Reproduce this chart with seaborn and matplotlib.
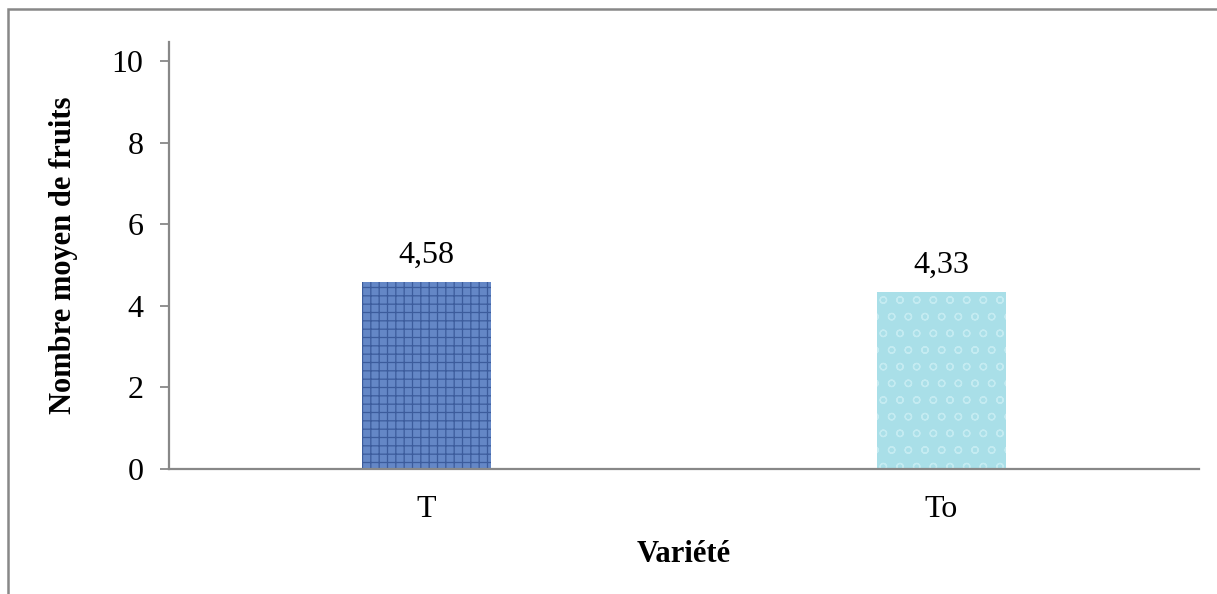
import matplotlib
matplotlib.use("Agg")
import matplotlib.pyplot as plt
from matplotlib.patches import Rectangle
import seaborn as sns
import pandas as pd

# Mean fruit count per variety
varietes = ["T", "To"]
nombre_moyen = [4.58, 4.33]
etiquettes = ["4,58", "4,33"]
y_ticks = [0, 2, 4, 6, 8, 10]

couleurs = {"T": "#6487c6", "To": "#a9dfe8"}
motifs = {"T": "++", "To": "o"}
couleurs_motif = {"T": "#3c5c9c", "To": "#c4ebf1"}

sns.set_theme(style="white")
plt.rcParams["font.family"] = ["Liberation Serif", "DejaVu Serif"]
plt.rcParams["text.color"] = "black"
plt.rcParams["axes.labelcolor"] = "black"
plt.rcParams["hatch.linewidth"] = 0.9

df = pd.DataFrame({"Variété": varietes, "Nombre": nombre_moyen})

fig = plt.figure(figsize=(12.17, 5.94), dpi=100)
ax = fig.add_axes([0.1389, 0.2104, 0.8463, 0.7189])

sns.barplot(data=df, x="Variété", y="Nombre", hue="Variété",
            palette=couleurs, width=0.25, ax=ax, legend=False,
            saturation=1)

for patch, v in zip(ax.patches, varietes):
    patch.set_hatch(motifs[v])
    patch.set_edgecolor(couleurs_motif[v])
    patch.set_linewidth(0)

for patch, lab in zip(ax.patches, etiquettes):
    ax.annotate(lab, (patch.get_x() + patch.get_width() / 2, patch.get_height()),
                xytext=(0, 9), textcoords="offset points",
                ha="center", va="bottom", fontsize=23, color="black")

ax.set_ylim(0, 10.466)
ax.set_yticks(y_ticks)
ax.set_yticklabels([str(t) for t in y_ticks])
ax.set_xlim(-0.5, 1.5)

grey = "#888888"
for side in ["top", "right"]:
    ax.spines[side].set_visible(False)
for side in ["left", "bottom"]:
    ax.spines[side].set_color(grey)
    ax.spines[side].set_linewidth(1.6)

ax.tick_params(axis="y", which="major", direction="out", length=6.5,
               width=1.3, color=grey, left=True, labelsize=23, pad=12,
               labelcolor="black")
ax.tick_params(axis="x", length=0, labelsize=23, pad=19, labelcolor="black")

ax.set_xlabel("Variété", fontsize=22, fontweight="bold", labelpad=11, color="black")
ax.set_ylabel("Nombre moyen de fruits", fontsize=22, fontweight="bold",
              labelpad=24, color="black")

# chart area frame (only the top and left edges fall inside the figure)
frame = Rectangle((8 / 1217, -0.2), 1.2, 1.2 - 9 / 594,
                  transform=fig.transFigure, fill=False,
                  edgecolor=grey, linewidth=1.8, clip_on=False)
fig.patches.append(frame)

fig.savefig("out.png", dpi=100)
